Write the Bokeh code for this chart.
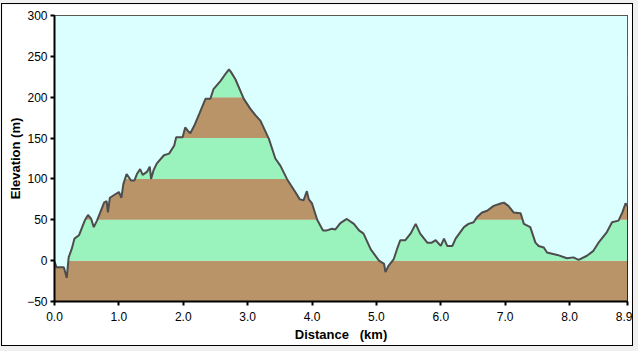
from bokeh.plotting import figure
from bokeh.models import Range1d, FixedTicker, Column
from bokeh.embed import file_html
from bokeh.resources import INLINE

dist = [0.0, 0.03, 0.145, 0.19, 0.22, 0.27, 0.31, 0.38, 0.43, 0.47, 0.52, 0.57, 0.61, 0.66,
        0.72, 0.77, 0.81, 0.83, 0.86, 0.92, 1.0, 1.04, 1.07, 1.12, 1.19, 1.24, 1.28, 1.33,
        1.37, 1.44, 1.48, 1.50, 1.54, 1.59, 1.70, 1.78, 1.86, 1.89, 1.99, 2.03, 2.07, 2.11,
        2.17, 2.25, 2.345, 2.42, 2.47, 2.58, 2.66, 2.71, 2.74, 2.81, 2.94, 3.04, 3.12, 3.2,
        3.33, 3.43, 3.51, 3.61, 3.74, 3.81, 3.87, 3.92, 3.95, 4.0, 4.08, 4.17, 4.23, 4.31,
        4.36, 4.44, 4.54, 4.65, 4.73, 4.8, 4.91, 5.04, 5.12, 5.14, 5.19, 5.27, 5.32, 5.37,
        5.45, 5.53, 5.61, 5.68, 5.79, 5.86, 5.92, 6.0, 6.05, 6.1, 6.18, 6.23, 6.36, 6.43,
        6.51, 6.56, 6.64, 6.72, 6.82, 6.93, 6.98, 7.05, 7.13, 7.24, 7.29, 7.39, 7.47, 7.52,
        7.6, 7.65, 7.81, 7.96, 8.06, 8.14, 8.27, 8.37, 8.45, 8.58, 8.66, 8.76, 8.82, 8.87, 8.9]
elev = [-1, -8, -8, -21, 4, 15, 27, 31, 41, 49, 56, 51, 41, 49,
        61, 71, 73, 59, 77, 80, 84, 77, 94, 106, 98, 98, 106, 112,
        105, 109, 115, 100, 111, 119, 129, 131, 141, 151, 151, 163, 159, 156,
        165, 180, 198, 198, 210, 220, 229, 234, 231, 222, 198, 186, 178, 171,
        149, 125, 116, 100, 84, 75, 74, 85, 75, 70, 50, 37, 37, 39,
        38, 46, 51, 45, 37, 33, 14, 0, -4, -14, -6, 2, 14, 25,
        25, 33, 45, 33, 22, 22, 25, 18, 27, 18, 18, 27, 41, 45,
        47, 53, 59, 61, 67, 70, 71, 67, 59, 58, 45, 41, 22, 18,
        16, 10, 7, 3, 4, 1, 6, 12, 22, 35, 47, 49, 59, 70, 67]

band_bottoms = [-50, 0, 50, 100, 150, 200, 250]
band_tops = [0, 50, 100, 150, 200, 250, 300]
band_colors = ["#b99468", "#9af2bd", "#b99468", "#9af2bd", "#b99468", "#9af2bd", "#b99468"]

x_ticks = [0, 1, 2, 3, 4, 5, 6, 7, 8, 8.9]
x_tick_labels = ["0.0", "1.0", "2.0", "3.0", "4.0", "5.0", "6.0", "7.0", "8.0", "8.9"]
y_ticks = [-50, 0, 50, 100, 150, 200, 250, 300]

SKY = "#dbffff"
FONT = "Liberation Sans"

p = figure(width=630, height=341, output_backend="svg", toolbar_location=None,
           x_range=Range1d(0, 8.9), y_range=Range1d(-50, 300),
           min_border_left=52, min_border_right=5, min_border_top=11, min_border_bottom=44,
           background_fill_color=SKY, border_fill_color="white",
           outline_line_color="black", outline_line_width=1,
           margin=(4, 6, 6, 2), styles={"outline": "1px solid black"})
p.grid.visible = False

p.quad(left=[0] * len(band_bottoms), right=[8.9] * len(band_bottoms),
       bottom=band_bottoms, top=band_tops, fill_color=band_colors, line_color=None)
p.varea(x=dist, y1=elev, y2=[300] * len(dist), fill_color=SKY)
p.line(dist, elev, line_color="#4d4d4d", line_width=2)

p.xaxis.ticker = FixedTicker(ticks=x_ticks)
p.xaxis.major_label_overrides = {t: l for t, l in zip(x_ticks, x_tick_labels)}
p.yaxis.ticker = FixedTicker(ticks=y_ticks)

for ax in (p.xaxis[0], p.yaxis[0]):
    ax.axis_line_width = 2
    ax.axis_line_color = "black"
    ax.major_tick_line_color = "black"
    ax.major_tick_line_width = 2
    ax.major_tick_out = 4
    ax.major_tick_in = 0
    ax.minor_tick_line_color = None
    ax.major_label_text_font = FONT
    ax.major_label_text_font_size = "12px"
    ax.major_label_text_color = "black"
    ax.axis_label_text_font = FONT
    ax.axis_label_text_font_size = "13px"
    ax.axis_label_text_font_style = "bold"
    ax.axis_label_text_color = "black"

p.xaxis.major_label_standoff = 6
p.xaxis.axis_label_standoff = 3
p.yaxis.major_label_standoff = 3
p.yaxis.axis_label_standoff = 1

p.xaxis.axis_label = "Distance \u00a0 (km)"
p.yaxis.axis_label = "Elevation (m)"

root = Column(p, width=638, height=351, styles={"background-color": "#f0f0f0"})
open("out.html", "w").write(file_html(root, INLINE))
